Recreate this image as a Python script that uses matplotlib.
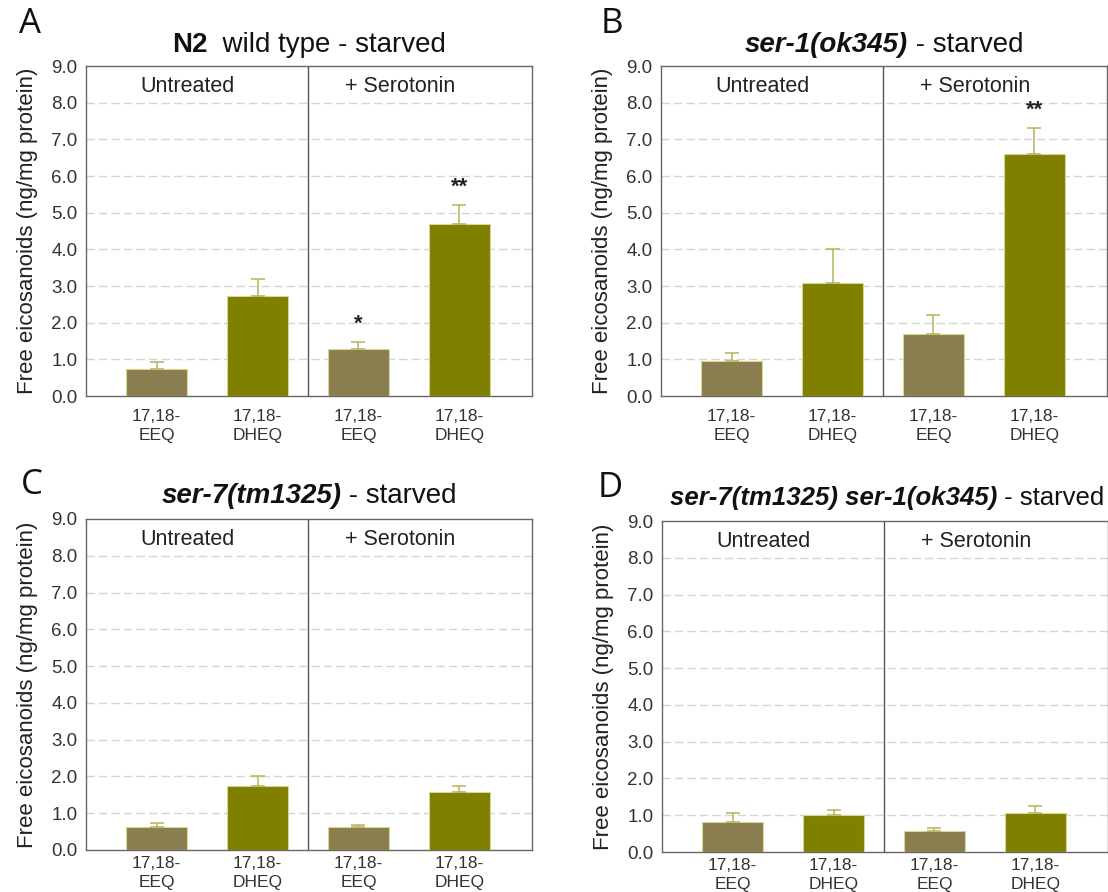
import matplotlib
matplotlib.use('Agg')
import matplotlib.pyplot as plt

plt.rcParams['font.family'] = ['Liberation Sans', 'DejaVu Sans']

# data
categories = ['17,18-\nEEQ', '17,18-\nDHEQ', '17,18-\nEEQ', '17,18-\nDHEQ']
groups = ['Untreated', '+ Serotonin']
panel_letters = ['A', 'B', 'C', 'D']
titles_bold = [('N2', False), ('ser-1(ok345)', True), ('ser-7(tm1325)', True),
               ('ser-7(tm1325) ser-1(ok345)', True)]
titles_rest = ['  wild type - starved', ' - starved', ' - starved', ' - starved']

means_A = [0.75, 2.73, 1.28, 4.68]
errs_A = [0.17, 0.47, 0.19, 0.52]
stars_A = ['', '', '*', '**']

means_B = [0.95, 3.07, 1.68, 6.60]
errs_B = [0.22, 0.93, 0.52, 0.70]
stars_B = ['', '', '', '**']

means_C = [0.63, 1.75, 0.63, 1.57]
errs_C = [0.10, 0.25, 0.05, 0.16]
stars_C = ['', '', '', '']

means_D = [0.82, 1.00, 0.58, 1.07]
errs_D = [0.23, 0.15, 0.07, 0.18]
stars_D = ['', '', '', '']

all_means = [means_A, means_B, means_C, means_D]
all_errs = [errs_A, errs_B, errs_C, errs_D]
all_stars = [stars_A, stars_B, stars_C, stars_D]

bar_colors = ['#8a7d50', '#7f7f00', '#8a7d50', '#7f7f00']
err_color = '#b5b35a'
edge_color = '#d9d68f'

# axes positions (left, bottom, width, height) in figure fractions
positions = [
    [0.0776, 0.5560, 0.4025, 0.3700],
    [0.5966, 0.5560, 0.4025, 0.3700],
    [0.0776, 0.0471, 0.4025, 0.3711],
    [0.5975, 0.0448, 0.4025, 0.3711],
]
letter_pos = [(0.027, 0.992), (0.552, 0.992), (0.029, 0.475), (0.551, 0.472)]
title_sizes = [20, 20, 20, 18.5]
title_gap = [14, 14, 16, 16]
xtick_pad = [9, 9, 4, 4]

fig = plt.figure(figsize=(11.08, 8.92), dpi=100)
renderer = fig.canvas.get_renderer()

x = [0, 1, 2, 3]
for i in range(4):
    ax = fig.add_axes(positions[i])
    ax.bar(x, all_means[i], width=0.605, color=bar_colors, edgecolor=edge_color,
           linewidth=0.8, zorder=3)
    ax.errorbar(x, all_means[i], yerr=[[0] * 4, all_errs[i]], fmt='none',
                ecolor=err_color, elinewidth=1.1, capsize=5, capthick=1.1, zorder=4)
    for xi, m, e, s in zip(x, all_means[i], all_errs[i], all_stars[i]):
        if s:
            ax.text(xi, m + e + 0.2, s, ha='center', va='bottom', fontsize=16,
                    fontweight='bold', color='#222222', zorder=5)
    ax.set_xlim(-0.70, 3.72)
    ax.set_ylim(0, 9)
    ax.set_yticks(range(10))
    ax.set_yticklabels(['%.1f' % v for v in range(10)], fontsize=13.5, color='#333333')
    ax.set_xticks(x)
    ax.set_xticklabels(categories, fontsize=12.5, color='#333333')
    for lbl in ax.get_xticklabels():
        lbl.set_linespacing(1.4)
    ax.tick_params(axis='y', length=0, pad=6)
    ax.tick_params(axis='x', length=0, pad=xtick_pad[i])
    for yv in range(1, 9):
        ax.axhline(yv, color='#d4d4d4', linestyle=(0, (6, 3)), linewidth=1.0, zorder=1)
    ax.axvline(1.5, color='#555555', linewidth=1.0, zorder=2)
    for sp in ax.spines.values():
        sp.set_color('#666666')
        sp.set_linewidth(1.0)
    ax.set_ylabel('Free eicosanoids (ng/mg protein)', fontsize=16, color='#222222',
                  labelpad=10)
    ax.text(0.31, 8.45, groups[0], ha='center', va='center', fontsize=15.5, color='#222222')
    ax.text(2.415, 8.45, groups[1], ha='center', va='center', fontsize=15.5, color='#222222')

    # panel letter
    fig.text(letter_pos[i][0], letter_pos[i][1], panel_letters[i], ha='center', va='top',
             fontsize=25, family='Open Sans', color='#111111')

    # title: bold part + regular part, centered over axes
    bold_txt, italic = titles_bold[i]
    tsize = title_sizes[i]
    t1 = ax.text(0, 0, bold_txt, fontsize=tsize, fontweight='bold',
                 fontstyle='italic' if italic else 'normal', transform=None)
    t2 = ax.text(0, 0, titles_rest[i], fontsize=tsize, transform=None)
    w1 = t1.get_window_extent(renderer).width
    w2 = t2.get_window_extent(renderer).width
    t1.remove()
    t2.remove()
    bb = ax.get_position()
    cx = (bb.x0 + bb.x1) / 2 * fig.bbox.width
    ty = (bb.y1 * fig.bbox.height) + title_gap[i]
    if i == 3:
        cx = cx + 2
    x0 = cx - (w1 + w2) / 2
    fig.text(x0 / fig.bbox.width, ty / fig.bbox.height, bold_txt, fontsize=tsize,
             fontweight='bold', fontstyle='italic' if italic else 'normal',
             va='baseline', color='#111111')
    fig.text((x0 + w1) / fig.bbox.width, ty / fig.bbox.height, titles_rest[i],
             fontsize=tsize, va='baseline', color='#111111')

fig.savefig('out.png', dpi=100)
